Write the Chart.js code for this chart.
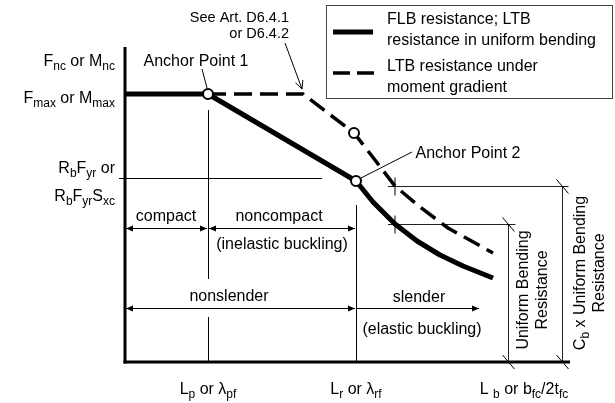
<!DOCTYPE html>
<html>
<head>
<meta charset="utf-8">
<script src="https://cdn.jsdelivr.net/npm/chart.js@4.4.1/dist/chart.umd.min.js"></script>
<style>
  html, body { margin: 0; padding: 0; background: #fff; }
  #wrap { width: 615px; height: 403px; }
</style>
</head>
<body>
<div id="wrap"><canvas id="chart" width="615" height="403"></canvas></div>
<script>
// Nominal flexural resistance vs. unbraced length / flange slenderness (schematic units)
const flbX = [0, 83, 231, 248, 270, 292, 315, 338, 368];
const flbY = [268, 268, 181, 160, 138, 121, 107, 96, 84];
const ltbX = [83, 178, 229, 250, 270, 295, 323, 368];
const ltbY = [268, 268, 229, 202, 176, 155, 134, 109];
const anchorX = [83, 231, 229];
const anchorY = [268, 181, 229];

// Axis annotations
const yTickLabels = ['F_{nc} or M_{nc}', 'F_{max} or M_{max}', 'R_{b}F_{yr} or', 'R_{b}F_{yr}S_{xc}'];
const yTickValues = [302, 265, 195, 167];
const xTickLabels = ['L_{p} or λ_{pf}', 'L_{r} or λ_{rf}', 'L _{b} or b_{fc}/2t_{fc}'];
const xTickValues = [83, 231, 399];
const rbFyrLevel = 184;
const lpValue = 83;
const lrValue = 231;

// Classification spans
const spanLabels = ['compact', 'noncompact', 'nonslender', 'slender'];
const spanFrom = [0, 83, 0, 231];
const spanTo = [83, 231, 231, 355];
const spanLevel = [134, 134, 54, 54];
const spanSubLabels = ['', '(inelastic buckling)', '', '(elastic buckling)'];

// Legend text
const legendTexts = [
  ['FLB resistance; LTB', 'resistance in uniform bending'],
  ['LTB resistance under', 'moment gradient']
];

const FONT = '"Liberation Sans", Arial, Helvetica, sans-serif';
const pts = (xs, ys) => xs.map((x, i) => ({ x, y: ys[i] }));

function parseRich(s) {
  const out = [];
  const re = /_\{([^}]*)\}/g;
  let last = 0, m;
  while ((m = re.exec(s))) {
    if (m.index > last) out.push({ t: s.slice(last, m.index), sub: false });
    out.push({ t: m[1], sub: true });
    last = re.lastIndex;
  }
  if (last < s.length) out.push({ t: s.slice(last), sub: false });
  return out;
}

function drawRich(ctx, s, x, cy, align, size) {
  const subSize = Math.round(size * 0.75);
  const parts = parseRich(s);
  let w = 0;
  parts.forEach(p => {
    ctx.font = (p.sub ? subSize : size) + 'px ' + FONT;
    p.w = ctx.measureText(p.t).width;
    w += p.w;
  });
  let sx = align === 'right' ? x - w : align === 'center' ? x - w / 2 : x;
  const base = cy + size * 0.36;
  ctx.textAlign = 'left';
  ctx.textBaseline = 'alphabetic';
  parts.forEach(p => {
    ctx.font = (p.sub ? subSize : size) + 'px ' + FONT;
    ctx.fillText(p.t, sx, p.sub ? base + size * 0.25 : base);
    sx += p.w;
  });
}

function line(ctx, x1, y1, x2, y2) {
  ctx.beginPath();
  ctx.moveTo(x1, y1);
  ctx.lineTo(x2, y2);
  ctx.stroke();
}

function head(ctx, x, y, dir) {
  ctx.beginPath();
  ctx.moveTo(x, y);
  ctx.lineTo(x - dir * 7, y - 3);
  ctx.lineTo(x - dir * 7, y + 3);
  ctx.closePath();
  ctx.fill();
}

const annotate = {
  id: 'annotate',
  beforeDatasetsDraw(chart) {
    const ctx = chart.ctx;
    const xs = chart.scales.x, ys = chart.scales.y;
    const X = v => xs.getPixelForValue(v);
    const Y = v => ys.getPixelForValue(v);
    ctx.save();
    ctx.strokeStyle = '#000';
    ctx.fillStyle = '#000';
    ctx.lineWidth = 1;

    // reference level R_b F_yr
    const yr = Math.round(Y(rbFyrLevel)) + 0.5;
    line(ctx, X(0) - 6, yr, X(197), yr);

    // L_p and L_r limits
    const xp = Math.round(X(lpValue)) + 0.5;
    line(ctx, xp, Y(252), xp, Y(83));
    line(ctx, xp, Y(45), xp, Y(0));
    const xr = Math.round(X(lrValue)) + 0.5;
    line(ctx, xr, Y(157), xr, Y(0));

    // classification spans
    spanLabels.forEach((lab, i) => {
      const a = X(spanFrom[i]), b = X(spanTo[i]);
      const yy = Math.round(Y(spanLevel[i])) + 0.5;
      line(ctx, a + 1, yy, b - 1, yy);
      if (i !== 3) head(ctx, a + 1, yy, -1);
      head(ctx, b - 1, yy, 1);
    });

    // resistance dimensions at a sample length
    const sx = X(flbX[4]);
    const uY = Math.round(Y(flbY[4])) + 0.5;
    const cY = Math.round(Y(ltbY[4])) + 0.5;
    const innerX = Math.round(X(383)) + 0.5;
    const outerX = Math.round(X(437)) + 0.5;
    const baseY = Y(0);
    ctx.strokeStyle = '#222';
    line(ctx, sx - 7, uY, innerX + 7, uY);
    line(ctx, sx - 7, cY, outerX + 6, cY);
    line(ctx, innerX, uY, innerX, baseY);
    line(ctx, outerX, cY, outerX, baseY);
    ctx.strokeStyle = '#000';
    line(ctx, sx, uY - 9, sx, uY + 9);
    line(ctx, sx, cY - 9, sx, cY + 9);
    [[innerX, uY], [outerX, cY], [innerX, baseY], [outerX, baseY]].forEach(([cx, cy]) => {
      line(ctx, cx - 6, cy - 7, cx + 6, cy + 7);
    });
    ctx.restore();
  },
  afterDatasetsDraw(chart) {
    const ctx = chart.ctx;
    const xs = chart.scales.x, ys = chart.scales.y;
    const X = v => xs.getPixelForValue(v);
    const Y = v => ys.getPixelForValue(v);
    ctx.save();
    ctx.strokeStyle = '#000';
    ctx.fillStyle = '#000';

    // axes
    ctx.lineWidth = 3;
    ctx.lineCap = 'butt';
    line(ctx, X(0), Y(315), X(0), Y(0) + 1.5);
    line(ctx, X(0) - 1.5, Y(0), X(445), Y(0));

    // y labels
    yTickLabels.forEach((t, i) => drawRich(ctx, t, 115, Y(yTickValues[i]), 'right', 16));
    // x labels
    xTickLabels.forEach((t, i) => drawRich(ctx, t, X(xTickValues[i]), 388, 'center', 16));

    // span labels
    const lblX = [166, 279, 229, 419];
    const lblDy = [-13, -13, -13, -12];
    spanLabels.forEach((t, i) => drawRich(ctx, t, lblX[i], Y(spanLevel[i]) + lblDy[i], 'center', 16));
    drawRich(ctx, spanSubLabels[1], 282, Y(spanLevel[1]) + 15, 'center', 16);
    drawRich(ctx, spanSubLabels[3], 422, Y(spanLevel[3]) + 20, 'center', 16);

    // rotated dimension labels
    const innerX = X(383), outerX = X(437);
    const rot = (cx, cy, lines) => {
      ctx.save();
      ctx.translate(cx, cy);
      ctx.rotate(-Math.PI / 2);
      lines.forEach((t, k) => drawRich(ctx, t, 0, (k - (lines.length - 1) / 2) * 19, 'center', 16));
      ctx.restore();
    };
    rot(innerX + 24, 290, ['Uniform Bending', 'Resistance']);
    rot(outerX + 27, 273, ['C_{b} x Uniform Bending', 'Resistance']);

    // anchor point callouts
    ctx.lineWidth = 1;
    drawRich(ctx, 'Anchor Point 1', 196, 60, 'center', 16);
    line(ctx, 202, 69, X(anchorX[0]) - 1, Y(anchorY[0]) - 6);
    drawRich(ctx, 'Anchor Point 2', 468, 152, 'center', 16);
    line(ctx, 412, 152, X(anchorX[1]) + 5, Y(anchorY[1]) - 3);

    // article reference with arrow
    drawRich(ctx, 'See Art. D6.4.1', 289, 17, 'right', 14.5);
    drawRich(ctx, 'or D6.4.2', 289, 33, 'right', 14.5);
    const ax2 = X(ltbX[1]) - 1, ay2 = Y(ltbY[1]) - 5;
    const ax1 = 285, ay1 = 43;
    line(ctx, ax1, ay1, ax2, ay2);
    const ang = Math.atan2(ay2 - ay1, ax2 - ax1);
    [0.45, -0.45].forEach(d => {
      line(ctx, ax2, ay2, ax2 - 9 * Math.cos(ang + d), ay2 - 9 * Math.sin(ang + d));
    });

    // legend
    ctx.strokeStyle = '#444';
    ctx.lineWidth = 1;
    ctx.strokeRect(326.5, 5.5, 286, 93);
    ctx.strokeStyle = '#000';
    ctx.lineWidth = 5;
    line(ctx, 333, 32, 373, 32);
    ctx.lineWidth = 3.5;
    ctx.setLineDash([17, 7]);
    line(ctx, 333, 73, 374, 73);
    ctx.setLineDash([]);
    legendTexts.forEach((pair, i) => {
      pair.forEach((t, k) => drawRich(ctx, t, 387, 18 + i * 47 + k * 21, 'left', 16));
    });
    ctx.restore();
  }
};

new Chart(document.getElementById('chart'), {
  type: 'line',
  data: {
    datasets: [
      {
        label: 'Anchor points',
        data: pts(anchorX, anchorY),
        showLine: false,
        pointRadius: 5,
        pointBackgroundColor: '#fff',
        pointBorderColor: '#000',
        pointBorderWidth: 2,
        order: 0,
        clip: false
      },
      {
        label: 'FLB resistance; LTB resistance in uniform bending',
        data: pts(flbX, flbY),
        borderColor: '#000',
        borderWidth: 5,
        pointRadius: 0,
        tension: 0,
        borderJoinStyle: 'round',
        order: 1,
        clip: false
      },
      {
        label: 'LTB resistance under moment gradient',
        data: pts(ltbX, ltbY),
        borderColor: '#000',
        borderWidth: 3.5,
        borderDash: [18, 8],
        pointRadius: 0,
        tension: 0,
        order: 2,
        clip: false
      }
    ]
  },
  options: {
    responsive: false,
    animation: false,
    devicePixelRatio: 1,
    layout: { padding: { left: 125, right: 45, top: 47, bottom: 41 } },
    scales: {
      x: { type: 'linear', min: 0, max: 445, display: false },
      y: { type: 'linear', min: 0, max: 315, display: false }
    },
    plugins: {
      legend: { display: false },
      tooltip: { enabled: false }
    }
  },
  plugins: [annotate]
});
</script>
</body>
</html>
